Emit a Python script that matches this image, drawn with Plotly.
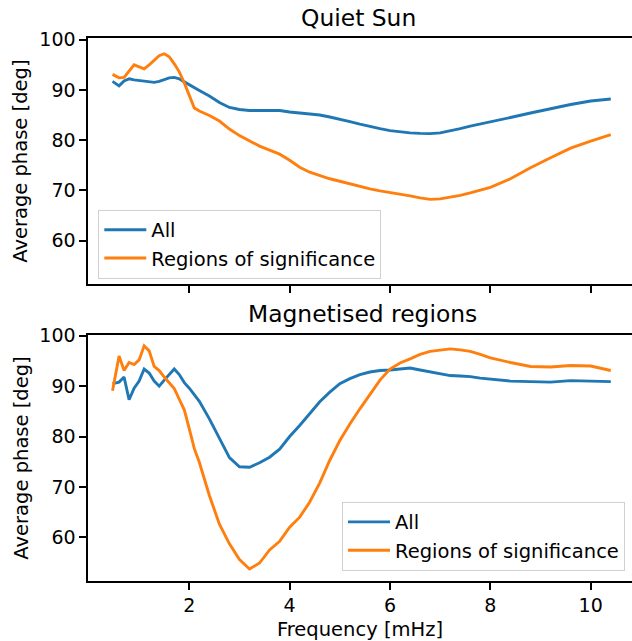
import plotly.graph_objects as go

# Frequency grid [mHz]
freq = [0.47, 0.6, 0.7, 0.8, 0.9, 1.0, 1.1, 1.2, 1.3, 1.4, 1.5, 1.6, 1.7, 1.8, 1.9, 2.0,
        2.1, 2.2, 2.4, 2.6, 2.8, 3.0, 3.2, 3.4, 3.6, 3.8, 4.0, 4.2, 4.4, 4.6, 4.8, 5.0,
        5.2, 5.4, 5.6, 5.8, 6.0, 6.2, 6.4, 6.6, 6.8, 7.0, 7.2, 7.4, 7.6, 7.8, 8.0, 8.4,
        8.8, 9.2, 9.6, 10.0, 10.4]

# Quiet Sun: average phase [deg]
quiet_all = [91.7, 90.8, 91.8, 92.2, 92.0, 91.9, 91.8, 91.6, 91.5, 91.7, 92.0, 92.4, 92.5,
             92.2, 91.6, 91.0, 90.4, 89.9, 88.8, 87.5, 86.5, 86.1, 85.9, 85.9, 86.0, 85.9,
             85.6, 85.4, 85.25, 85.0, 84.6, 84.2, 83.7, 83.2, 82.7, 82.3, 81.9, 81.6, 81.45,
             81.35, 81.3, 81.45, 81.8, 82.3, 82.8, 83.2, 83.6, 84.5, 85.4, 86.3, 87.1, 87.8,
             88.2]
quiet_sig = [93.1, 92.4, 92.5, 93.8, 95.0, 94.6, 94.2, 95.0, 96.0, 96.8, 97.2, 96.6, 95.2,
             93.6, 91.4, 89.0, 86.4, 85.8, 84.9, 83.8, 82.2, 80.9, 79.9, 78.8, 78.0, 77.2,
             76.0, 74.6, 73.6, 72.9, 72.3, 71.8, 71.3, 70.7, 70.3, 69.9, 69.6, 69.3, 68.9,
             68.5, 68.2, 68.3, 68.6, 69.0, 69.5, 70.0, 70.6, 72.3, 74.5, 76.5, 78.4, 79.8,
             81.1]

# Magnetised regions: average phase [deg]
mag_all = [90.5, 90.8, 91.8, 87.3, 89.6, 91.0, 93.4, 92.6, 91.0, 90.0, 91.2, 92.4, 93.4,
           92.3, 90.7, 89.6, 88.3, 87.0, 83.5, 79.6, 75.8, 74.0, 73.9, 74.8, 75.9, 77.5,
           80.0, 82.2, 84.6, 86.9, 88.8, 90.5, 91.5, 92.3, 92.8, 93.1, 93.2, 93.4, 93.6,
           93.2, 92.8, 92.4, 92.1, 92.0, 91.9, 91.6, 91.4, 91.0, 90.9, 90.8, 91.1, 91.0,
           90.9]
mag_sig = [89.1, 96.0, 93.1, 94.7, 94.3, 95.2, 98.0, 97.0, 93.9, 93.1, 91.8, 90.6, 89.5,
           87.4, 85.3, 81.5, 77.6, 74.9, 68.3, 62.6, 58.7, 55.6, 53.7, 54.9, 57.5, 59.2,
           62.0, 64.0, 67.0, 70.8, 75.3, 79.2, 82.5, 85.5, 88.4, 91.2, 93.4, 94.6, 95.4,
           96.3, 96.9, 97.2, 97.4, 97.2, 96.9, 96.3, 95.6, 94.7, 93.9, 93.8, 94.1, 94.0,
           93.1]

panel_titles = ["Quiet Sun", "Magnetised regions"]
series_names = ["All", "Regions of significance"]
x_title = "Frequency [mHz]"
y_title = "Average phase [deg]"
x_ticks = [2, 4, 6, 8, 10]
y_ticks = [60, 70, 80, 90, 100]

BLUE = "#1f77b4"
ORANGE = "#ff7f0e"
FONT = "DejaVu Sans"
LW = 2.9

W, H = 632, 641
ML, MR, MT, MB = 88, 0, 38, 60

fig = go.Figure()

fig.add_trace(go.Scatter(x=freq, y=quiet_all, mode="lines", name=series_names[0],
                         line=dict(color=BLUE, width=LW), xaxis="x", yaxis="y",
                         legend="legend"))
fig.add_trace(go.Scatter(x=freq, y=quiet_sig, mode="lines", name=series_names[1],
                         line=dict(color=ORANGE, width=LW), xaxis="x", yaxis="y",
                         legend="legend"))
fig.add_trace(go.Scatter(x=freq, y=mag_all, mode="lines", name=series_names[0],
                         line=dict(color=BLUE, width=LW), xaxis="x2", yaxis="y2",
                         legend="legend2"))
fig.add_trace(go.Scatter(x=freq, y=mag_sig, mode="lines", name=series_names[1],
                         line=dict(color=ORANGE, width=LW), xaxis="x2", yaxis="y2",
                         legend="legend2"))

plot_h = H - MT - MB
def py(px):
    return (H - MB - px) / plot_h

def pxx(px):
    return (px - ML) / (W - ML - MR)

axis_common = dict(
    showgrid=False, zeroline=False, showline=True, linecolor="black", linewidth=1.6,
    ticks="outside", ticklen=6.8, tickwidth=1.6, tickcolor="black",
    tickfont=dict(family=FONT, size=19, color="black"),
)

legend_common = dict(
    bgcolor="rgba(255,255,255,0.8)", bordercolor="#d0d0d0", borderwidth=1,
    itemwidth=42, font=dict(family=FONT, size=19.5, color="black"),
)

xrange = [-0.019, 10.823]
fig.update_layout(
    width=W, height=H,
    margin=dict(l=ML, r=MR, t=MT, b=MB, pad=0),
    paper_bgcolor="white", plot_bgcolor="white",
    font=dict(family=FONT, size=19.5, color="black"),
    xaxis=dict(domain=[0, 1], anchor="y", range=xrange, tickvals=x_ticks,
               showticklabels=False, mirror=True, **axis_common),
    yaxis=dict(domain=[py(284.3), 1.0], anchor="x", range=[51.28, 100.34],
               tickvals=y_ticks, title=dict(text=y_title, font=dict(size=19.5), standoff=6),
               **axis_common),
    xaxis2=dict(domain=[0, 1], anchor="y2", range=xrange, tickvals=x_ticks,
                matches="x", mirror=True,
                title=dict(text=x_title, font=dict(size=19.5), standoff=8),
                **axis_common),
    yaxis2=dict(domain=[0, py(335)], anchor="x2", range=[51.33, 100.15],
                tickvals=y_ticks, title=dict(text=y_title, font=dict(size=19.5), standoff=6),
                **axis_common),
    legend=dict(x=pxx(98.3), y=py(209.5), xanchor="left", yanchor="top", **legend_common),
    legend2=dict(x=pxx(625), y=py(570.7), xanchor="right", yanchor="bottom", **legend_common),
    showlegend=True,
)

fig.add_annotation(text=panel_titles[0], xref="paper", yref="paper", x=pxx(358), y=py(18),
                   xanchor="center", yanchor="middle", showarrow=False,
                   font=dict(family=FONT, size=23.4, color="black"))
fig.add_annotation(text=panel_titles[1], xref="paper", yref="paper", x=pxx(362), y=py(314),
                   xanchor="center", yanchor="middle", showarrow=False,
                   font=dict(family=FONT, size=23.4, color="black"))

fig.write_html("out.html")
